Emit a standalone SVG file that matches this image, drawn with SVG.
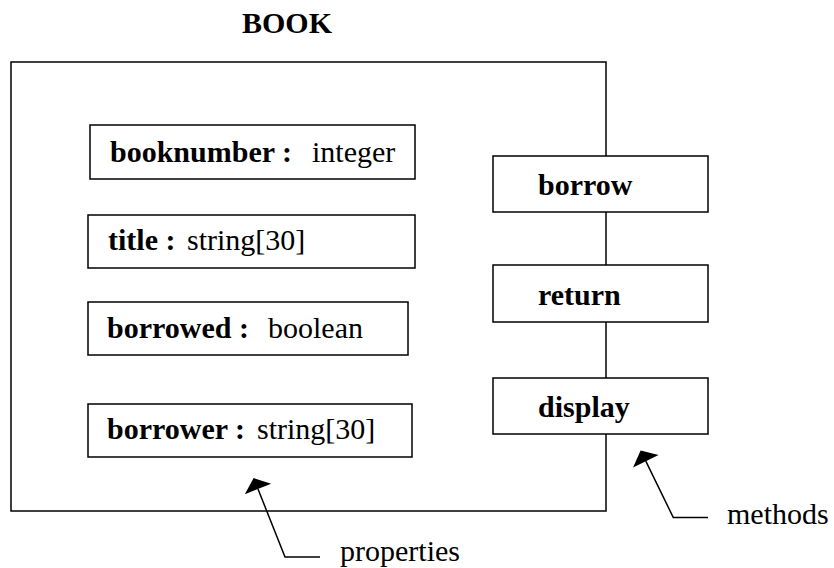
<svg xmlns="http://www.w3.org/2000/svg" width="834" height="568" viewBox="0 0 834 568">
<style>
  .box { fill: #fff; stroke: #000; stroke-width: 1.5; }
  .outer { fill: none; stroke: #000; stroke-width: 1.5; }
  .line { fill: none; stroke: #000; stroke-width: 1.5; }
  text { font-family: "Liberation Serif", "Times New Roman", serif; font-size: 30px; fill: #000; }
  .b { font-weight: bold; }
</style>
<defs>
  <marker id="ah" markerUnits="userSpaceOnUse" markerWidth="30" markerHeight="32" viewBox="-1 -16 15 32" refX="0" refY="0" orient="auto">
    <path d="M0,-14.2 L11.8,0 L0,14.2 z" fill="#000"/>
  </marker>
</defs>
<text id="title" class="b" x="287" y="33" text-anchor="middle">BOOK</text>
<g id="book">
  <rect class="outer" x="11" y="62" width="595" height="449"/>
</g>
<g id="booknumber">
  <rect class="box" x="90" y="125" width="325" height="54"/>
  <text x="110" y="162"><tspan class="b">booknumber :</tspan><tspan x="312">integer</tspan></text>
</g>
<g id="title-prop">
  <rect class="box" x="88" y="215" width="327" height="53"/>
  <text x="108" y="250"><tspan class="b">title :</tspan><tspan x="187">string[30]</tspan></text>
</g>
<g id="borrowed">
  <rect class="box" x="88" y="302" width="320" height="53"/>
  <text x="107" y="338"><tspan class="b">borrowed :</tspan><tspan x="268">boolean</tspan></text>
</g>
<g id="borrower">
  <rect class="box" x="88" y="404" width="324" height="53"/>
  <text x="107" y="439"><tspan class="b">borrower :</tspan><tspan x="257">string[30]</tspan></text>
</g>
<g id="borrow">
  <rect class="box" x="493" y="156" width="215" height="56"/>
  <text class="b" x="538" y="195">borrow</text>
</g>
<g id="return">
  <rect class="box" x="493" y="265" width="215" height="57"/>
  <text class="b" x="538" y="305">return</text>
</g>
<g id="display">
  <rect class="box" x="493" y="378" width="215" height="56"/>
  <text class="b" x="538" y="417">display</text>
</g>
<g id="connectors">
  <path class="line" d="M320,557 L285,557 L258,489" marker-end="url(#ah)"/>
  <path class="line" d="M708,517.5 L673.3,517.5 L645.8,461.2" marker-end="url(#ah)"/>
</g>
<g id="labels">
  <text x="340" y="561">properties</text>
  <text x="727" y="524">methods</text>
</g>
</svg>
